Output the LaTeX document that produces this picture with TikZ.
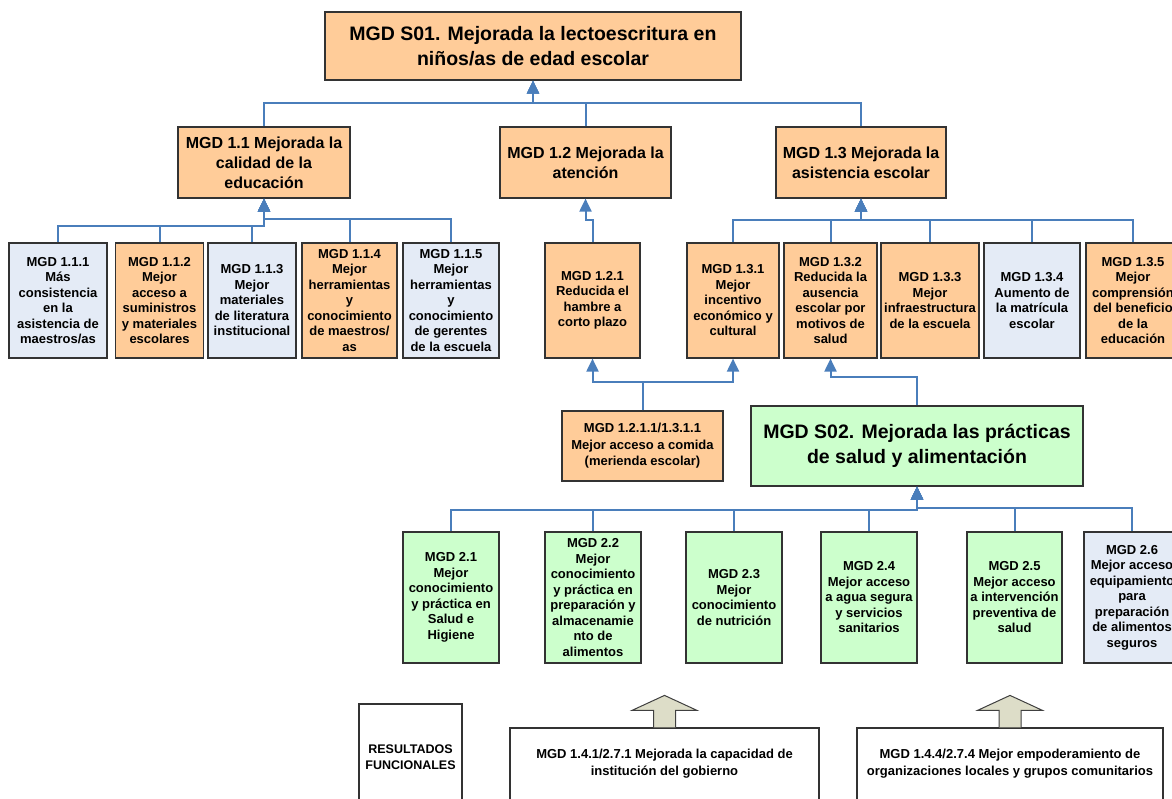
\documentclass[tikz,border=0pt]{standalone}
\usepackage{fontspec}
\setmainfont{Liberation Sans}
\usepackage{tikz}
\usetikzlibrary{arrows.meta}
\definecolor{peach}{HTML}{FFCC99}
\definecolor{paleBlue}{HTML}{E4EBF6}
\definecolor{paleGreen}{HTML}{CCFFCC}
\definecolor{lineBlue}{HTML}{4A7EBB}
\definecolor{arrowOlive}{HTML}{DDDDC8}
\tikzstyle{mgdBox} = [rectangle, draw=black!80, line width=1.2pt, inner sep=0pt, align=center, font=\bfseries\fontsize{13}{15.5}\selectfont]
\tikzstyle{smallBox} = [mgdBox, minimum width=96pt, minimum height=115pt]
\tikzstyle{greenBox} = [mgdBox, fill=paleGreen, minimum width=96pt, minimum height=131pt]
\tikzstyle{midBox} = [mgdBox, fill=peach, minimum width=171pt, minimum height=71pt, font=\bfseries\fontsize{16}{20}\selectfont]
\tikzstyle{goalBox} = [mgdBox, font=\bfseries\fontsize{19.5}{24.5}\selectfont]
\tikzstyle{baseBox} = [mgdBox, fill=white, font=\bfseries\fontsize{13}{17}\selectfont]
\tikzstyle{link} = [line width=2pt, draw=lineBlue]
\tikzstyle{arrow} = [link, ->, >={Triangle[length=13pt,width=12pt]}]
\tikzstyle{upArrow} = [draw=black!75, fill=arrowOlive, line width=1pt]

\begin{document}
\begin{tikzpicture}[x=1pt, y=-1pt]
    \useasboundingbox (0,0) rectangle (1172,799);
    \clip (0,0) rectangle (1172,799);
    \node (s01) [goalBox, fill=peach, minimum width=416pt, minimum height=68pt] at (533,46) {MGD S01. Mejorada la lectoescritura en\\ni\~nos/as de edad escolar};
    \node (m11) [midBox, minimum width=172pt] at (264,162.5) {MGD 1.1 Mejorada la\\calidad de la\\educaci\'on};
    \node (m12) [midBox] at (585.5,162.5) {MGD 1.2 Mejorada la\\atenci\'on};
    \node (m13) [midBox, minimum width=170pt] at (861,162.5) {MGD 1.3 Mejorada la\\asistencia escolar};
    \node (m111) [smallBox, fill=paleBlue, minimum width=98pt] at (58,300.5) {MGD 1.1.1\\Más\\consistencia\\en la\\asistencia de\\maestros/as};
    \node (m112) [smallBox, fill=peach, minimum width=88pt] at (159.5,300.5) {MGD 1.1.2\\Mejor\\acceso a\\suministros\\y materiales\\escolares};
    \node (m113) [smallBox, fill=paleBlue, minimum width=88pt] at (252,300.5) {MGD 1.1.3\\Mejor\\materiales\\de literatura\\institucional};
    \node (m114) [smallBox, fill=peach, minimum width=95pt] at (349.5,300.5) {MGD 1.1.4\\Mejor\\herramientas\\y\\conocimiento\\de maestros/\\as};
    \node (m115) [smallBox, fill=paleBlue] at (451,300.5) {MGD 1.1.5\\Mejor\\herramientas\\y\\conocimiento\\de gerentes\\de la escuela};
    \node (m121) [smallBox, fill=peach, minimum width=95pt] at (592.5,300.5) {MGD 1.2.1\\Reducida el\\hambre a\\corto plazo};
    \node (m131) [smallBox, fill=peach, minimum width=92pt] at (733,300.5) {MGD 1.3.1\\Mejor\\incentivo\\económico y\\cultural};
    \node (m132) [smallBox, fill=peach, minimum width=93pt] at (830.5,300.5) {MGD 1.3.2\\Reducida la\\ausencia\\escolar por\\motivos de\\salud};
    \node (m133) [smallBox, fill=peach, minimum width=98pt] at (930,300.5) {MGD 1.3.3\\Mejor\\infraestructura\\de la escuela};
    \node (m134) [smallBox, fill=paleBlue] at (1032,300.5) {MGD 1.3.4\\Aumento de\\la matrícula\\escolar};
    \node (m135) [smallBox, fill=peach, minimum width=94pt] at (1133,300.5) {MGD 1.3.5\\Mejor\\comprensión\\del beneficio\\de la\\educación};
    \node (m1211) [mgdBox, fill=peach, minimum width=161pt, minimum height=70pt, font=\bfseries\fontsize{13}{16.5}\selectfont] at (642.5,446) {MGD 1.2.1.1/1.3.1.1\\Mejor acceso a comida\\(merienda escolar)};
    \node (s02) [goalBox, fill=paleGreen, minimum width=332pt, minimum height=80pt] at (917,446) {MGD S02. Mejorada las prácticas\\de salud y alimentación};
    \node (m21) [greenBox] at (451,597.5) {MGD 2.1\\Mejor\\conocimiento\\y práctica en\\Salud e\\Higiene};
    \node (m22) [greenBox] at (593,597.5) {MGD 2.2\\Mejor\\conocimiento\\y práctica en\\preparación y\\almacenamie\\nto de\\alimentos};
    \node (m23) [greenBox] at (734,597.5) {MGD 2.3\\Mejor\\conocimiento\\de nutrición};
    \node (m24) [greenBox] at (869,597.5) {MGD 2.4\\Mejor acceso\\a agua segura\\y servicios\\sanitarios};
    \node (m25) [greenBox, minimum width=95pt] at (1014.5,597.5) {MGD 2.5\\Mejor acceso\\a intervención\\preventiva de\\salud};
    \node (m26) [greenBox, fill=paleBlue] at (1132,597.5) {MGD 2.6\\Mejor acceso\\equipamiento\\para\\preparación\\de alimentos\\seguros};
    \node (res) [baseBox, minimum width=103pt, minimum height=106pt, font=\bfseries\fontsize{12.5}{16}\selectfont] at (410.5,757) {RESULTADOS\\FUNCIONALES};
    \node (f1) [baseBox, minimum width=309pt, minimum height=72pt] at (664.5,764) {MGD 1.4.1/2.7.1 Mejorada la capacidad de\\institución del gobierno};
    \node (f2) [baseBox, minimum width=306pt, minimum height=72pt] at (1010,764) {MGD 1.4.4/2.7.4 Mejor empoderamiento de\\organizaciones locales y grupos comunitarios};
    \draw [arrow] (m11.north) |- (s01.south |- 0,103) -- (s01.south);
    \draw [arrow] (m12.north) |- (s01.south |- 0,103) -- (s01.south);
    \draw [arrow] (m13.north) |- (s01.south |- 0,103) -- (s01.south);
    \draw [arrow] (m111.north) -- ++(0,-16) -| (m11.south);
    \draw [arrow] (m112.north) -- ++(0,-16) -| (m11.south);
    \draw [arrow] (m113.north) -- ++(0,-16) -| (m11.south);
    \draw [arrow] (m114.north) -- ++(0,-23) -| (m11.south);
    \draw [arrow] (m115.north) -- ++(0,-23) -| (m11.south);
    \draw [arrow] (m121.north) -- ++(0,-22) -| (m12.south);
    \draw [arrow] (m131.north) -- ++(0,-22) -| (m13.south);
    \draw [arrow] (m132.north) -- ++(0,-22) -| (m13.south);
    \draw [arrow] (m133.north) -- ++(0,-22) -| (m13.south);
    \draw [arrow] (m134.north) -- ++(0,-22) -| (m13.south);
    \draw [arrow] (m135.north) -- ++(0,-22) -| (m13.south);
    \draw [arrow] (m1211.north) -- ++(0,-28) -| (m121.south);
    \draw [arrow] (m1211.north) -- ++(0,-28) -| (m131.south);
    \draw [arrow] (s02.north) -- ++(0,-28) -| (m132.south);
    \draw [arrow] (m21.north) -- ++(0,-21) -| (s02.south);
    \draw [arrow] (m22.north) -- ++(0,-21) -| (s02.south);
    \draw [arrow] (m23.north) -- ++(0,-21) -| (s02.south);
    \draw [arrow] (m24.north) -- ++(0,-21) -| (s02.south);
    \draw [arrow] (m25.north) -- ++(0,-23) -| (s02.south);
    \draw [arrow] (m26.north) -- ++(0,-23) -| (s02.south);
    \draw [upArrow] (f1.north) ++(-11,0) -- ++(0,-17) -- ++(-21.5,0) -- ++(32.5,-15) -- ++(32.5,15) -- ++(-21.5,0) -- ++(0,17);
    \draw [upArrow] (f2.north) ++(-11,0) -- ++(0,-17) -- ++(-21.5,0) -- ++(32.5,-15) -- ++(32.5,15) -- ++(-21.5,0) -- ++(0,17);
\end{tikzpicture}
\end{document}
